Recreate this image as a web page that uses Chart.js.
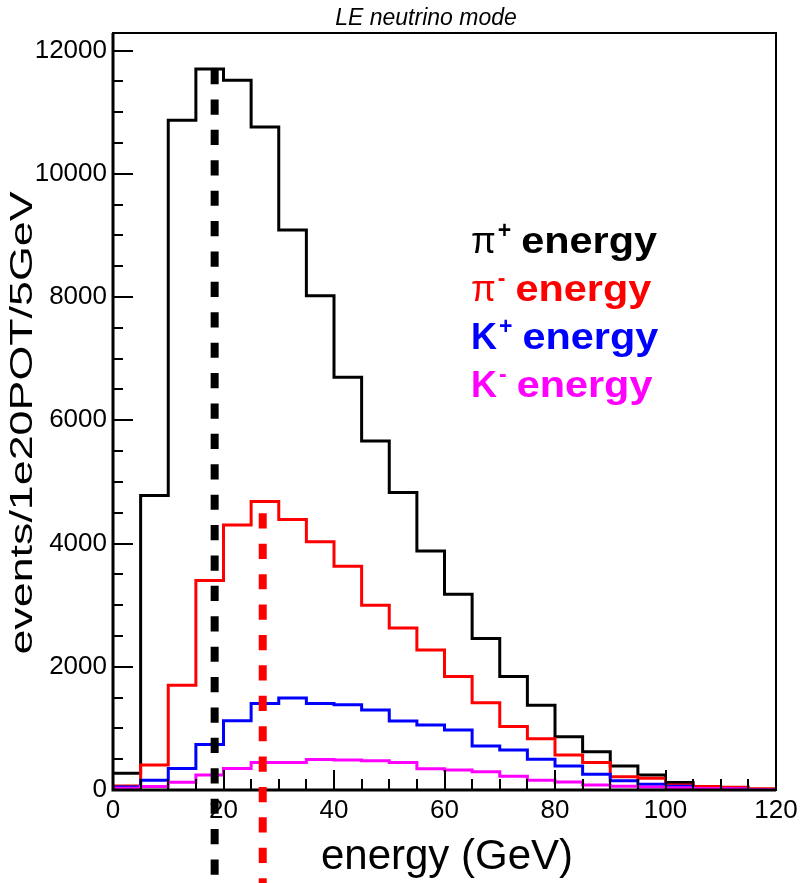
<!DOCTYPE html>
<html>
<head>
<meta charset="utf-8">
<title>LE neutrino mode</title>
<script src="https://cdn.jsdelivr.net/npm/chart.js@4/dist/chart.umd.min.js"></script>
<style>
  html, body { margin: 0; padding: 0; background: #ffffff; }
  #wrap { width: 800px; height: 883px; }
</style>
</head>
<body>
<div id="wrap"><canvas id="c" width="800" height="883"></canvas></div>
<script>
// Parent-meson energy spectra, 5 GeV bins (events / 1e20 POT / 5 GeV)
const binLowEdges = [0, 5, 10, 15, 20, 25, 30, 35, 40, 45, 50, 55, 60, 65, 70, 75, 80, 85, 90, 95, 100, 105, 110, 115];
const binWidth = 5;

const piPlus  = [270, 4780, 10870, 11700, 11520, 10760, 9090, 8020, 6700, 5665, 4830, 3880, 3175, 2460, 1840, 1375, 865, 620, 390, 245, 120, 45, 15, 10];
const piMinus = [65, 405, 1700, 3400, 4300, 4680, 4390, 4030, 3630, 3000, 2630, 2270, 1840, 1415, 1030, 830, 570, 445, 215, 190, 80, 55, 45, 20];
const kPlus   = [50, 160, 350, 740, 1125, 1405, 1495, 1405, 1385, 1300, 1120, 1055, 975, 715, 650, 500, 390, 255, 150, 95, 60, 25, 15, 5];
const kMinus  = [30, 55, 125, 245, 350, 445, 445, 495, 485, 475, 445, 345, 325, 295, 225, 160, 130, 80, 60, 50, 35, 25, 20, 10];

const seriesNames   = ['π+ energy', 'π- energy', 'K+ energy', 'K- energy'];
const seriesColors  = ['#000000', '#ff0000', '#0000ff', '#ff00ff'];
const legendSymbols = ['π', 'π', 'K', 'K'];
const legendCharges = ['+', '-', '+', '-'];
const legendWord    = 'energy';

// Mean energies of the pi+ and pi- spectra (dashed markers)
const meanEnergies = [18.4, 27.1];
const meanLineTops = [11700, 4490];
const meanColors   = ['#000000', '#ff0000'];

const xTickValues = [0, 20, 40, 60, 80, 100, 120];
const yTickValues = [0, 2000, 4000, 6000, 8000, 10000, 12000];
const xMinorStep = 5;
const yMinorStep = 500;
const xMin = 0, xMax = 120;
const yMin = 0, yMax = 12285;

const plotTitle = 'LE neutrino mode';
const xTitle = 'energy (GeV)';
const yTitle = 'events/1e20POT/5GeV';

const FONT = '"Liberation Sans", Arial, Helvetica, sans-serif';

// Histogram outline: one point per bin low edge plus a closing point at the upper edge
function histPoints(values) {
  const pts = binLowEdges.map((e, i) => ({ x: e, y: values[i] }));
  pts.push({ x: binLowEdges[binLowEdges.length - 1] + binWidth, y: values[values.length - 1] });
  return pts;
}

const seriesValues = [piPlus, piMinus, kPlus, kMinus];
const datasets = seriesValues.map((vals, i) => ({
  label: seriesNames[i],
  data: histPoints(vals),
  borderColor: seriesColors[i],
  borderWidth: 3,
  pointRadius: 0,
  fill: false,
  stepped: true,
  tension: 0,
  order: seriesValues.length - i
}));

const decorations = {
  id: 'decorations',
  afterDatasetsDraw(chart) {
    const { ctx, chartArea: a, scales: { x, y } } = chart;
    ctx.save();
    ctx.strokeStyle = '#000000';
    // frame
    ctx.lineWidth = 2;
    ctx.strokeRect(a.left, a.top, a.right - a.left, a.bottom - a.top);
    ctx.lineWidth = 3;
    ctx.beginPath();
    ctx.moveTo(a.left, a.top);
    ctx.lineTo(a.left, a.bottom);
    ctx.lineTo(a.right, a.bottom);
    ctx.stroke();
    // inward tick marks
    ctx.lineWidth = 2;
    ctx.beginPath();
    for (let v = xMin; v <= xMax + 1e-9; v += xMinorStep) {
      const px = Math.round(x.getPixelForValue(v));
      const len = xTickValues.includes(v) ? 20 : 11;
      ctx.moveTo(px, a.bottom);
      ctx.lineTo(px, a.bottom - len);
    }
    for (let v = yMin; v <= yMax + 1e-9; v += yMinorStep) {
      const py = Math.round(y.getPixelForValue(v));
      const len = yTickValues.includes(v) ? 20 : 10;
      ctx.moveTo(a.left, py);
      ctx.lineTo(a.left + len, py);
    }
    ctx.stroke();
    ctx.restore();
  },
  afterDraw(chart) {
    const { ctx, scales: { x, y } } = chart;
    ctx.save();
    // dashed mean-energy markers, running down past the axis
    ctx.lineWidth = 8;
    ctx.lineCap = 'butt';
    ctx.setLineDash([15.2, 15.2]);
    meanEnergies.forEach((m, i) => {
      const px = x.getPixelForValue(m);
      ctx.strokeStyle = meanColors[i];
      ctx.beginPath();
      ctx.moveTo(px, y.getPixelForValue(meanLineTops[i]));
      ctx.lineTo(px, chart.height);
      ctx.stroke();
    });
    ctx.setLineDash([]);

    // title
    ctx.fillStyle = '#000000';
    ctx.font = 'italic 23px ' + FONT;
    ctx.textAlign = 'center';
    ctx.textBaseline = 'alphabetic';
    ctx.fillText(plotTitle, 426, 25);

    // x-axis title
    ctx.font = '42px ' + FONT;
    ctx.fillText(xTitle, 447, 869);

    // y-axis title (rotated, tall glyphs)
    ctx.save();
    ctx.translate(32, 423);
    ctx.rotate(-Math.PI / 2);
    ctx.scale(1.445, 1);
    ctx.font = '31px ' + FONT;
    ctx.fillText(yTitle, 0, 0);
    ctx.restore();

    // legend text
    ctx.textAlign = 'left';
    legendSymbols.forEach((sym, i) => {
      const base = 253 + 48 * i;
      let cx = 471;
      ctx.fillStyle = seriesColors[i];
      ctx.font = (sym === 'π' ? '' : 'bold ') + '36px ' + FONT;
      ctx.fillText(sym, cx, base);
      cx += ctx.measureText(sym).width + 2;
      ctx.font = 'bold 23px ' + FONT;
      ctx.fillText(legendCharges[i], cx, base - 15);
      cx += ctx.measureText(legendCharges[i]).width + 10;
      ctx.save();
      ctx.translate(cx, base);
      ctx.scale(1.15, 1);
      ctx.font = 'bold 36px ' + FONT;
      ctx.fillText(legendWord, 0, 0);
      ctx.restore();
    });
    ctx.restore();
  }
};

new Chart(document.getElementById('c'), {
  type: 'line',
  data: { datasets },
  options: {
    responsive: false,
    animation: false,
    events: [],
    layout: { padding: { top: 33, right: 24, bottom: 0, left: 0 } },
    plugins: {
      legend: { display: false },
      title: { display: false },
      tooltip: { enabled: false }
    },
    scales: {
      x: {
        type: 'linear',
        min: xMin,
        max: xMax,
        grid: { display: false, drawTicks: false },
        border: { display: false },
        afterBuildTicks: s => { s.ticks = xTickValues.map(v => ({ value: v })); },
        afterFit: s => { s.height = 93; s.paddingLeft = 0; s.paddingRight = 0; },
        ticks: {
          autoSkip: false,
          maxRotation: 0,
          padding: 5,
          color: '#000000',
          font: { family: FONT, size: 26 },
          callback: v => String(v)
        }
      },
      y: {
        type: 'linear',
        min: yMin,
        max: yMax,
        grid: { display: false, drawTicks: false },
        border: { display: false },
        afterBuildTicks: s => { s.ticks = yTickValues.map(v => ({ value: v })); },
        afterFit: s => { s.width = 113; s.paddingTop = 0; s.paddingBottom = 0; },
        ticks: {
          autoSkip: false,
          padding: 6,
          color: '#000000',
          font: { family: FONT, size: 26 },
          callback: v => String(v)
        }
      }
    }
  },
  plugins: [decorations]
});
</script>
</body>
</html>
